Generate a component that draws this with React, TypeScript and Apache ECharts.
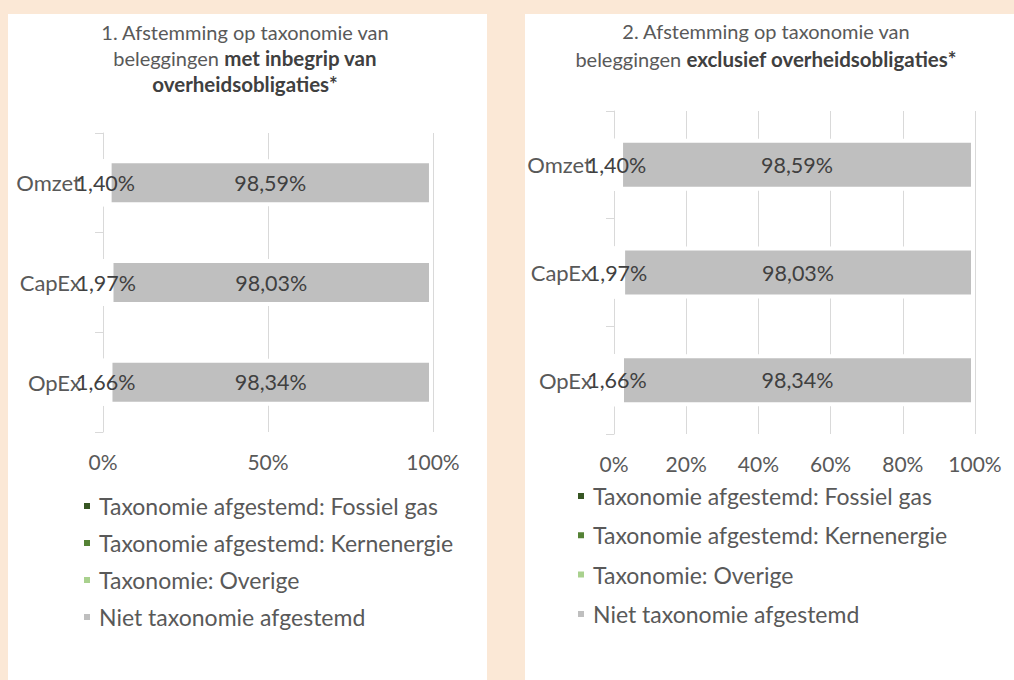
import React, { useEffect, useRef } from "react";
import * as echarts from "echarts";

const categories = ["Omzet", "CapEx", "OpEx"];
const seriesNames = [
  "Taxonomie afgestemd: Fossiel gas",
  "Taxonomie afgestemd: Kernenergie",
  "Taxonomie: Overige",
  "Niet taxonomie afgestemd",
];
const seriesColors = ["#375623", "#548235", "#a9d18e", "#bfbfbf"];

// Chart 1: incl. government bonds
const leftFossil = [0, 0, 0];
const leftNuclear = [0, 0, 0];
const leftOther = [1.4, 1.97, 1.66];
const leftNot = [98.59, 98.03, 98.34];

// Chart 2: excl. government bonds
const rightFossil = [0, 0, 0];
const rightNuclear = [0, 0, 0];
const rightOther = [1.4, 1.97, 1.66];
const rightNot = [98.59, 98.03, 98.34];

const leftTicks = 50;
const rightTicks = 20;

const FONT = "Lato, 'Open Sans', sans-serif";
const TXT = "#595959";
const LBL = "#404040";
const GRID = "#d9d9d9";

const fmt = (v: number) => `${v.toFixed(2).replace(".", ",")}%`;

function makeSeries(idx: number, values: number[][], barWidth: number) {
  return values.map((vals, i) => ({
    name: seriesNames[i],
    type: "bar",
    stack: "s" + idx,
    xAxisIndex: idx,
    yAxisIndex: idx,
    barWidth,
    data: vals,
    itemStyle: { color: seriesColors[i], borderColor: "#ffffff", borderWidth: 4 },
    label: {
      show: i >= 2,
      position: "inside",
      formatter: (p: any) => fmt(p.value),
      color: LBL,
      fontFamily: FONT,
      fontSize: 21.5,
    },
  }));
}

export default function App() {
  const ref = useRef<HTMLDivElement>(null);
  useEffect(() => {
    if (!ref.current) return;
    const chart = echarts.init(ref.current, undefined, { renderer: "svg" });
    const rich = (lh: number) => ({
      n: { fontFamily: FONT, fontSize: 20, color: TXT, fontWeight: "normal", lineHeight: lh },
      b: { fontFamily: FONT, fontSize: 20.5, color: "#404040", fontWeight: "bold", lineHeight: lh },
    });
    const legendBase = {
      orient: "vertical",
      icon: "rect",
      itemWidth: 8,
      itemHeight: 8,
      padding: 0,
      selectedMode: false,
      textStyle: { fontFamily: FONT, fontSize: 23, lineHeight: 23, color: TXT, padding: [0, 0, 0, 3] },
      data: seriesNames,
    };
    const yBase = {
      type: "category",
      data: categories,
      inverse: true,
      axisLine: { show: true, lineStyle: { color: GRID } },
      axisTick: { show: true, length: 8, lineStyle: { color: GRID } },
      axisLabel: { fontFamily: FONT, fontSize: 22, color: TXT, margin: 22 },
    };
    const xBase = {
      type: "value",
      min: 0,
      max: 100,
      axisLine: { show: false },
      axisTick: { show: false },
      splitLine: { show: true, lineStyle: { color: GRID } },
      axisLabel: { fontFamily: FONT, fontSize: 21, color: TXT, margin: 19, formatter: "{value}%" },
    };
    chart.setOption({
      animation: false,
      backgroundColor: "#fbe8d6",
      graphic: [
        { type: "rect", shape: { x: 8, y: 14, width: 479, height: 666 }, style: { fill: "#ffffff" }, z: -10 },
        { type: "rect", shape: { x: 525, y: 14, width: 489, height: 666 }, style: { fill: "#ffffff" }, z: -10 },
      ],
      title: [
        {
          text: "{n|1. Afstemming op taxonomie van}\n{n|beleggingen }{b|met inbegrip van}\n{b|overheidsobligaties*}",
          left: 245,
          top: 19,
          padding: 0,
          textAlign: "center",
          textStyle: { fontWeight: "normal", rich: rich(26) },
        },
        {
          text: "{n|2. Afstemming op taxonomie van}\n{n|beleggingen }{b|exclusief overheidsobligaties*}",
          left: 766,
          top: 17,
          padding: 0,
          textAlign: "center",
          textStyle: { fontWeight: "normal", rich: rich(28) },
        },
      ],
      legend: [
        { ...legendBase, left: 82, top: 494.5, itemGap: 14 },
        { ...legendBase, left: 576, top: 484.5, itemGap: 16.3 },
      ],
      grid: [
        { left: 103, top: 133, width: 330, height: 299, containLabel: false },
        { left: 614, top: 111, width: 361, height: 323, containLabel: false },
      ],
      xAxis: [
        { ...xBase, gridIndex: 0, interval: leftTicks },
        { ...xBase, gridIndex: 1, interval: rightTicks },
      ],
      yAxis: [
        { ...yBase, gridIndex: 0 },
        { ...yBase, gridIndex: 1 },
      ],
      series: [
        ...makeSeries(0, [leftFossil, leftNuclear, leftOther, leftNot], 47),
        ...makeSeries(1, [rightFossil, rightNuclear, rightOther, rightNot], 52),
      ],
    });
    return () => chart.dispose();
  }, []);
  return (
    <div
      ref={ref}
      style={{ position: "absolute", left: 0, top: 0, width: 1014, height: 680 }}
    />
  );
}
